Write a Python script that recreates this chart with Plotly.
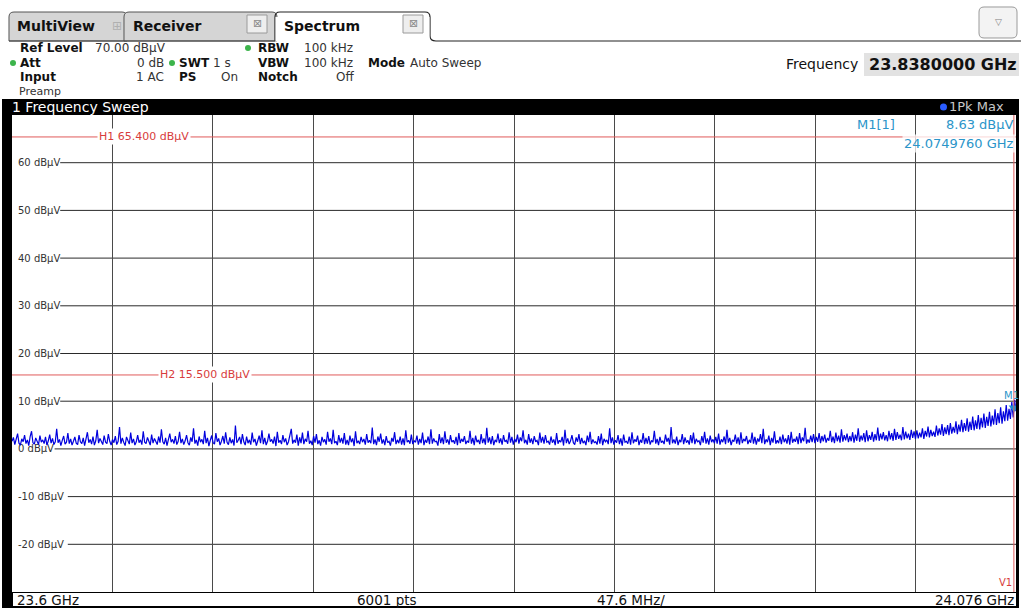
import numpy as np
import plotly.graph_objects as go

# ---------------- data ----------------
freq_start_ghz = 23.6
freq_stop_ghz = 24.076
level_dbuv = [
    1.6, 2.4, 0.9, 1.8, 3.2, 1.2, 0.8, 2.1, 1.5, 2.9, 1.1, 1.9, 0.7, 2.6, 3.7, 1.3, 1.0, 2.3, 1.6, 0.9, 2.8, 1.4, 1.9, 1.1,
    2.5, 0.8, 1.7, 3.0, 1.2, 2.2, 0.9, 1.5, 4.2, 1.3, 2.0, 0.7, 1.8, 2.7, 1.0, 1.4, 3.3, 1.1, 2.1, 0.8, 1.6, 2.5, 1.2, 0.9,
    2.9, 1.5, 1.1, 2.3, 0.7, 1.9, 3.5, 1.3, 2.0, 1.0, 2.6, 0.8, 1.7, 4.0, 1.2, 2.2, 1.5, 0.9, 2.8, 1.4, 1.1, 3.1, 1.6, 0.8,
    2.0, 1.3, 2.7, 0.9, 1.6, 4.6, 1.1, 2.3, 1.4, 0.7, 2.5, 1.8, 1.0, 3.4, 1.2, 2.1, 0.8, 1.5, 2.9, 1.3, 1.9, 0.9, 3.7, 1.4,
    1.1, 2.4, 1.6, 0.8, 3.0, 1.2, 2.2, 1.7, 0.9, 2.6, 1.3, 4.1, 1.5, 1.0, 2.3, 0.7, 1.8, 3.2, 1.4, 2.0, 1.1, 2.7, 0.9, 1.6,
    3.6, 1.2, 2.1, 0.9, 1.7, 2.9, 1.3, 0.8, 2.4, 1.5, 4.3, 1.1, 1.9, 0.7, 2.6, 1.4, 2.0, 1.0, 3.8, 1.2, 2.3, 0.6, 1.8, 2.8,
    1.3, 1.0, 3.3, 1.5, 2.2, 0.8, 1.6, 2.7, 1.1, 3.5, 1.4, 0.9, 2.4, 1.2, 2.0, 0.7, 4.9, 1.3, 1.8, 2.5, 1.0, 3.1, 1.5, 0.8,
    2.6, 1.2, 1.9, 0.9, 3.4, 1.4, 2.1, 0.7, 1.7, 2.8, 1.2, 3.9, 1.0, 2.3, 0.8, 1.6, 3.2, 1.5, 2.0, 1.1, 2.6, 0.6, 3.6, 1.3,
    1.8, 1.0, 2.9, 1.4, 2.2, 0.8, 1.5, 2.7, 4.2, 1.1, 1.9, 1.3, 3.0, 0.7, 2.4, 1.2, 3.4, 1.0, 2.1, 1.5, 3.8, 1.1, 1.7, 0.8,
    2.7, 1.3, 3.1, 1.0, 1.8, 0.7, 2.5, 1.4, 2.0, 0.9, 3.6, 1.5, 2.2, 1.0, 4.0, 1.2, 1.6, 0.8, 2.9, 1.3, 2.3, 1.1, 3.3, 0.9,
    1.9, 0.8, 2.8, 1.4, 2.2, 0.6, 3.7, 1.2, 1.7, 1.0, 2.5, 1.4, 2.1, 0.9, 3.1, 1.3, 1.8, 1.2, 4.5, 1.0, 2.0, 0.8, 2.6, 1.5,
    3.2, 1.1, 2.0, 0.8, 2.7, 1.3, 1.6, 0.7, 2.3, 1.5, 3.5, 1.0, 1.9, 1.2, 2.6, 0.9, 2.2, 0.8, 3.9, 1.4, 1.8, 1.1, 3.0, 1.0,
    1.7, 1.4, 2.8, 0.9, 2.1, 1.2, 3.4, 0.8, 1.9, 1.3, 2.6, 1.0, 4.1, 1.1, 2.2, 1.5, 1.6, 0.7, 3.1, 1.2, 2.4, 1.0, 3.7, 1.3,
    2.0, 0.9, 2.9, 1.4, 1.8, 1.1, 2.5, 0.8, 3.3, 1.2, 2.1, 1.5, 2.7, 1.0, 1.7, 1.3, 3.8, 1.1, 2.3, 0.8, 2.8, 1.4, 1.9, 1.0,
    3.1, 1.2, 2.2, 0.9, 4.4, 1.3, 2.4, 1.0, 2.7, 0.8, 1.9, 1.4, 3.2, 1.2, 2.2, 0.9, 2.9, 1.5, 1.8, 1.1, 3.5, 1.3, 2.5, 0.9,
    2.1, 1.4, 3.0, 1.1, 2.4, 1.6, 3.9, 1.2, 1.9, 0.9, 3.1, 1.3, 2.2, 1.0, 2.7, 1.5, 1.8, 0.8, 3.4, 1.3, 2.5, 1.1, 2.9, 1.4,
    1.6, 0.9, 2.6, 1.3, 2.0, 0.8, 3.3, 1.1, 1.8, 1.4, 2.5, 0.7, 4.0, 1.2, 2.2, 1.0, 1.7, 2.9, 1.3, 0.9, 2.4, 1.5, 3.1, 1.0,
    2.3, 1.2, 1.7, 0.8, 2.8, 1.4, 3.6, 1.0, 2.0, 1.3, 1.5, 0.9, 2.7, 1.1, 3.2, 0.8, 2.1, 1.5, 1.9, 1.0, 4.3, 1.2, 2.4, 0.9,
    1.8, 1.3, 2.9, 1.0, 2.2, 0.7, 3.0, 1.4, 1.6, 1.1, 2.6, 0.9, 3.5, 1.2, 2.0, 1.5, 2.8, 0.8, 1.9, 1.3, 3.3, 1.0, 2.3, 1.1,
    2.7, 0.9, 1.8, 1.4, 3.8, 1.1, 2.1, 0.8, 2.5, 1.3, 1.7, 1.0, 3.0, 1.5, 2.3, 0.9, 4.6, 1.2, 2.0, 1.1, 2.6, 0.8, 1.9, 1.4,
    3.1, 1.0, 2.4, 1.3, 1.8, 0.9, 2.9, 1.2, 3.4, 1.0, 2.1, 1.5, 1.7, 0.8, 2.7, 1.3, 3.6, 1.1, 2.2, 0.9, 2.8, 1.4, 2.0, 1.2,
    2.5, 1.1, 3.2, 0.9, 2.0, 1.4, 2.6, 1.0, 4.0, 1.3, 2.3, 0.8, 1.9, 1.5, 3.0, 1.1, 2.4, 0.9, 3.5, 1.2, 2.1, 1.6, 2.7, 1.0,
    1.9, 1.3, 3.4, 1.1, 2.5, 0.9, 2.2, 1.5, 3.1, 1.2, 4.2, 1.0, 2.0, 1.4, 2.8, 0.8, 2.3, 1.3, 3.7, 1.1, 1.8, 1.2, 2.6, 1.0,
    3.0, 1.4, 2.2, 1.1, 2.9, 0.9, 3.6, 1.3, 2.1, 1.5, 2.6, 1.0, 3.3, 1.2, 2.4, 1.6, 4.4, 1.1, 2.0, 1.3, 2.8, 1.4, 3.1, 1.2,
    2.5, 1.5, 3.3, 1.2, 2.7, 1.6, 3.0, 1.3, 2.3, 1.7, 3.8, 1.4, 2.6, 1.2, 3.4, 1.6, 2.8, 1.3, 4.1, 1.5, 2.9, 1.8, 3.2, 1.4,
    2.7, 1.6, 3.5, 1.3, 3.0, 1.7, 4.3, 1.5, 2.8, 1.8, 3.3, 1.4, 3.9, 1.6, 2.9, 1.9, 3.6, 1.5, 3.1, 1.8, 4.5, 1.7, 3.2, 2.0,
    3.5, 1.8, 2.9, 1.6, 3.8, 2.0, 3.3, 1.7, 4.2, 1.9, 3.5, 2.1, 3.0, 1.8, 4.6, 2.0, 3.6, 2.2, 3.2, 1.9, 4.0, 2.3, 3.7, 2.1,
    3.9, 2.2, 3.4, 2.4, 4.3, 2.1, 3.8, 2.6, 4.7, 2.4, 4.0, 2.7, 3.6, 2.5, 4.9, 2.8, 4.3, 3.0, 5.2, 2.7, 4.5, 3.1, 5.0, 2.9,
    5.4, 3.2, 4.6, 3.4, 5.8, 3.1, 5.1, 3.6, 6.1, 3.5, 5.4, 3.8, 6.4, 3.6, 5.7, 4.0, 6.8, 3.9, 6.0, 4.2, 7.1, 4.1, 6.5, 4.5,
    7.4, 4.4, 6.7, 4.8, 7.8, 4.7, 7.0, 5.1, 8.3, 5.0, 7.5, 5.4, 8.7, 5.3, 7.9, 5.8, 9.2, 5.9, 8.4, 6.3, 9.8, 6.6, 10.3, 7.9,
]
y_tick_vals = [60, 50, 40, 30, 20, 10, 0, -10, -20]
y_tick_text = ["60 dBµV", "50 dBµV", "40 dBµV", "30 dBµV", "20 dBµV",
               "10 dBµV", "0 dBµV", "-10 dBµV", "-20 dBµV"]
hline_levels = [65.4, 15.5]
hline_labels = ["H1 65.400 dBµV", "H2 15.500 dBµV"]
marker_freq_ghz = 24.074976
marker_level_dbuv = 8.63
v1_freq_ghz = 24.075

# ---------------- geometry helpers (pixels -> paper) ----------------
W, H = 1021, 610
PL, PR, PT, PB = 12, 1016, 115, 592
def px(x): return (x - PL) / (PR - PL)
def py(y): return (PB - y) / (PB - PT)
def P(x, y): return f"{px(x):.5f},{py(y):.5f}"

FONT = "DejaVu Sans"
freqs = np.linspace(freq_start_ghz, freq_stop_ghz, len(level_dbuv))

fig = go.Figure()
fig.add_trace(go.Scatter(x=freqs, y=level_dbuv, mode="lines",
                         line=dict(color="#0000dd", width=1.2), hoverinfo="skip"))
fig.add_trace(go.Scatter(x=[marker_freq_ghz], y=[marker_level_dbuv], mode="markers",
                         marker=dict(symbol="triangle-down", size=9, color="#1c8fd6"),
                         hoverinfo="skip"))

shapes = []
def rect(x0, y0, x1, y1, fill, lc=None, lw=0, layer="above"):
    return dict(type="rect", xref="paper", yref="paper", x0=px(x0), x1=px(x1),
                y0=py(y1), y1=py(y0), fillcolor=fill,
                line=dict(color=lc or fill, width=lw), layer=layer)

# dark frame pieces around the diagram
shapes.append(rect(2, 99, 1019, 115, "black"))      # title bar
shapes.append(rect(2, 99, 12, 608, "black"))        # left bar
shapes.append(rect(1016, 99, 1019, 608, "black"))   # right edge
shapes.append(rect(2, 592, 1019, 608, "black"))     # bottom strip
shapes.append(rect(13, 593, 1016, 606, "white"))    # footer box

# tabs
def tab(x0, x1, fill, lc):
    path = (f"M{P(x0,41)} L{P(x0,17)} Q{P(x0,12)} {P(x0+5,12)} "
            f"L{P(x1-5,12)} Q{P(x1,12)} {P(x1,17)} L{P(x1,41)} Z")
    return dict(type="path", xref="paper", yref="paper", path=path,
                fillcolor=fill, line=dict(color=lc, width=1))
shapes.append(tab(9, 127, "#d5d5d5", "#555555"))
shapes.append(tab(124, 277, "#d5d5d5", "#555555"))
shapes.append(dict(type="path", xref="paper", yref="paper",
                   path=(f"M{P(275,41)} L{P(275,17)} Q{P(275,12)} {P(280,12)} "
                         f"L{P(425,12)} Q{P(430,12)} {P(430,17)} L{P(430,36)} "
                         f"Q{P(430,41)} {P(436,41)} L{P(1021,41)}"),
                   line=dict(color="#222222", width=1.2)))
shapes.append(rect(275.5, 17, 429.5, 41.5, "white"))
shapes.append(dict(type="line", xref="paper", yref="paper", x0=px(9), x1=px(275),
                   y0=py(41), y1=py(41), line=dict(color="#444444", width=1)))
# close buttons
for bx in (247, 403):
    shapes.append(rect(bx, 15, bx + 20, 33, "#eeeeee", "#9a9a9a", 1))
# dropdown button
shapes.append(dict(type="path", xref="paper", yref="paper",
                   path=(f"M{P(979,12)} Q{P(979,7)} {P(984,7)} L{P(1012,7)} Q{P(1017,7)} {P(1017,12)} "
                         f"L{P(1017,33)} Q{P(1017,38)} {P(1012,38)} L{P(984,38)} Q{P(979,38)} {P(979,33)} Z"),
                   fillcolor="#f3f3f3", line=dict(color="#9a9a9a", width=1)))
# frequency value box
shapes.append(rect(864, 53, 1019, 76, "#e2e2e2"))
# green status dots
for cx, cy in ((13, 63), (172, 63), (248, 48)):
    shapes.append(dict(type="circle", xref="paper", yref="paper", x0=px(cx - 3), x1=px(cx + 3),
                       y0=py(cy + 3), y1=py(cy - 3), fillcolor="#3cb44b", line=dict(width=0)))
# blue trace dot in title bar
shapes.append(dict(type="circle", xref="paper", yref="paper", x0=px(940), x1=px(947),
                   y0=py(110.5), y1=py(103.5), fillcolor="#2a5cff", line=dict(width=0)))

# horizontal grid lines (start after their inside labels)
for v, t in zip(y_tick_vals, y_tick_text):
    start = 21 + 5.6 * len(t) + (2 if t.startswith("-") else 0)
    shapes.append(dict(type="line", xref="paper", yref="y", x0=px(start), x1=1,
                       y0=v, y1=v, line=dict(color="#2a2a2a", width=1), layer="below"))
# H lines
for lv in hline_levels:
    shapes.append(dict(type="line", xref="paper", yref="y", x0=0, x1=1, y0=lv, y1=lv,
                       line=dict(color="#e05a5a", width=1)))
# V1 line
shapes.append(dict(type="line", xref="x", yref="paper", x0=v1_freq_ghz, x1=v1_freq_ghz,
                   y0=0, y1=1, line=dict(color="#e05a5a", width=1)))

ann = []
def txt(x, y, s, size=12, color="#111111", anchor="left", **kw):
    d = dict(xref="paper", yref="paper", x=px(x), y=py(y), text=s, showarrow=False,
             xanchor=anchor, yanchor="middle", font=dict(family=FONT, size=size, color=color))
    d.update(kw)
    ann.append(d)

# tabs
txt(15, 26, "<b>MultiView</b>", 14)
txt(110, 26, "⊞", 12, "#b0b0b0")
txt(131, 26, "<b>Receiver</b>", 14)
txt(282, 26, "<b>Spectrum</b>", 14)
for bx in (247, 403):
    txt(bx + 10, 24, "⊠", 11, "#8a8a8a", "center")
txt(998, 22, "▽", 9, "#808080", "center")

# info block
txt(18, 48, "<b>Ref Level</b>")
txt(93, 48, "70.00 dBµV", 12, "#333333")
txt(256, 48, "<b>RBW</b>")
txt(302, 48, "100 kHz", 12, "#333333")
txt(18, 63, "<b>Att</b>")
txt(166, 63, "0 dB", 12, "#333333", "right")
txt(177, 63, "<b>SWT</b>")
txt(211, 63, "1 s", 12, "#333333")
txt(256, 63, "<b>VBW</b>")
txt(302, 63, "100 kHz", 12, "#333333")
txt(366, 63, "<b>Mode</b>")
txt(408, 63, "Auto Sweep", 12, "#333333")
txt(18, 77, "<b>Input</b>")
txt(166, 77, "1 AC", 12, "#333333", "right")
txt(177, 77, "<b>PS</b>")
txt(219, 77, "On", 12, "#333333")
txt(256, 77, "<b>Notch</b>")
txt(356, 77, "Off", 12, "#333333", "right")
txt(17, 91, "Preamp", 11, "#333333")
txt(860, 64, "Frequency", 14, "#111111", "right")
txt(1019, 64, "<b>23.8380000 GHz</b>", 16, "#111111", "right")

# title bar
txt(10, 107, "1 Frequency Sweep", 14, "white")
txt(947, 107, "1Pk Max", 13, "#c8c8c8")

# marker readout
txt(855, 124, "M1[1]", 13, "#2b95c9")
txt(1016, 124, "8.63 dBµV", 13, "#2b95c9", "right")
txt(1016, 143, "24.0749760 GHz", 13, "#2b95c9", "right", bgcolor="rgba(255,255,255,0.75)")
ann.append(dict(xref="x", yref="y", x=marker_freq_ghz, y=marker_level_dbuv, text="M1",
                showarrow=False, xanchor="center", yanchor="bottom", yshift=5, xshift=-2,
                font=dict(family=FONT, size=10, color="#2b95c9")))
# H line labels
for lv, lab, lx in zip(hline_levels, hline_labels, (97, 158)):
    ann.append(dict(xref="paper", yref="y", x=px(lx), y=lv, text=lab, showarrow=False,
                    xanchor="left", yanchor="middle", bgcolor="white", borderpad=1,
                    font=dict(family=FONT, size=11, color="#d83c3c")))
txt(1014, 582, "V1", 10, "#d83c3c", "right")

# footer
txt(15, 600, "23.6 GHz", 13.5)
txt(355, 600, "6001 pts", 13.5)
txt(595, 600, "47.6 MHz/", 13.5)
txt(1016, 600, "24.076 GHz", 13.5, "#111111", "right")

fig.update_layout(
    width=W, height=H, margin=dict(l=PL, r=W - PR, t=PT, b=H - PB, pad=0),
    paper_bgcolor="white", plot_bgcolor="white", showlegend=False,
    shapes=shapes, annotations=ann,
    xaxis=dict(range=[freq_start_ghz, freq_stop_ghz], showticklabels=False, ticks="",
               showgrid=True, gridcolor="#4a4a4a", gridwidth=1, tick0=freq_start_ghz,
               dtick=(freq_stop_ghz - freq_start_ghz) / 10, zeroline=False, showline=False,
               fixedrange=True),
    yaxis=dict(range=[-30, 70], tickvals=y_tick_vals, ticktext=y_tick_text, ticks="",
               ticklabelposition="inside", ticklabelstandoff=3, showgrid=False,
               zeroline=False, showline=False, layer="below traces", fixedrange=True,
               tickfont=dict(family=FONT, size=10, color="#333333")),
)

fig.write_html("out.html")
